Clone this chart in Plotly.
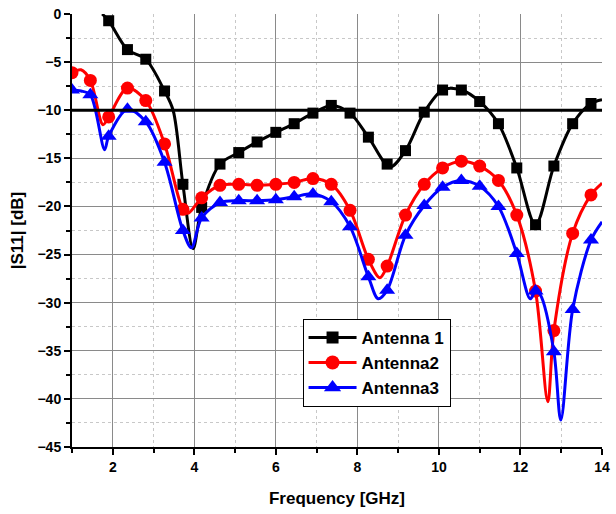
import plotly.graph_objects as go

# ---------------- data ----------------
marker_freq = [1.00, 1.45, 1.90, 2.36, 2.81, 3.27, 3.72, 4.18, 4.63, 5.09, 5.54, 6.00, 6.45,
               6.91, 7.36, 7.82, 8.27, 8.73, 9.18, 9.64, 10.09, 10.55, 11.00, 11.46, 11.91,
               12.37, 12.82, 13.28, 13.73]

ant1_marker_freq = marker_freq[2:]
ant1_marker_s11 = [-0.7, -3.7, -4.7, -8.0, -17.7, -20.1, -15.6, -14.4, -13.3, -12.3, -11.4,
                   -10.3, -9.5, -10.3, -12.8, -15.6, -14.2, -10.2, -7.9, -7.9, -9.1, -11.4,
                   -16.0, -21.9, -15.8, -11.4, -9.3]
ant2_marker_s11 = [-6.1, -6.9, -10.7, -7.7, -9.0, -13.5, -20.3, -19.1, -17.8, -17.7, -17.8,
                   -17.7, -17.5, -17.1, -17.7, -20.4, -25.5, -26.2, -20.9, -17.7, -16.0, -15.3,
                   -15.8, -17.3, -20.9, -28.8, -32.9, -22.8, -18.8]
ant3_marker_s11 = [-7.9, -8.4, -12.7, -9.9, -11.2, -15.4, -22.5, -21.2, -19.6, -19.4, -19.4,
                   -19.3, -19.0, -18.7, -19.5, -22.1, -27.3, -28.7, -23.0, -19.9, -18.0, -17.3,
                   -17.9, -20.0, -24.9, -28.8, -35.1, -30.7, -23.5]

# measured curves (denser readings incl. resonance minima)
ant1_freq = [1.74, 1.90, 2.36, 2.81, 3.27, 3.48, 3.72, 3.97, 4.18, 4.63, 5.09, 5.54, 6.00,
             6.45, 6.91, 7.36, 7.82, 8.27, 8.80, 9.18, 9.64, 10.09, 10.55, 11.00, 11.46,
             11.91, 12.37, 12.82, 13.28, 13.73, 14.00]
ant1_s11 = [0.0, -0.7, -3.7, -4.7, -8.0, -10.0, -17.7, -24.4, -20.1, -15.6, -14.4, -13.3,
            -12.3, -11.4, -10.3, -9.5, -10.3, -12.8, -15.9, -14.2, -10.2, -7.9, -7.9, -9.1,
            -11.4, -16.0, -21.9, -15.8, -11.4, -9.3, -8.9]

ant2_freq = [1.00, 1.22, 1.45, 1.76, 1.90, 2.36, 2.81, 3.27, 3.72, 3.85, 4.18, 4.63, 5.09,
             5.54, 6.00, 6.45, 6.91, 7.36, 7.82, 8.27, 8.55, 8.73, 9.18, 9.64, 10.09, 10.55,
             11.00, 11.46, 11.91, 12.37, 12.67, 12.82, 13.28, 13.73, 14.00]
ant2_s11 = [-6.1, -5.8, -6.9, -11.5, -10.7, -7.7, -9.0, -13.5, -20.3, -20.7, -19.1, -17.8,
            -17.7, -17.8, -17.7, -17.5, -17.1, -17.7, -20.4, -25.5, -27.4, -26.2, -20.9,
            -17.7, -16.0, -15.3, -15.8, -17.3, -20.9, -28.8, -40.3, -32.9, -22.8, -18.8, -17.6]

ant3_freq = [1.00, 1.22, 1.45, 1.80, 1.90, 2.36, 2.81, 3.27, 3.72, 3.93, 4.18, 4.63, 5.09,
             5.54, 6.00, 6.45, 6.91, 7.36, 7.82, 8.27, 8.51, 8.73, 9.18, 9.64, 10.09, 10.55,
             11.00, 11.46, 11.91, 12.24, 12.37, 12.49, 12.82, 12.99, 13.28, 13.73, 14.00]
ant3_s11 = [-7.9, -8.0, -8.4, -14.1, -12.7, -9.9, -11.2, -15.4, -22.5, -24.3, -21.2, -19.6,
            -19.4, -19.4, -19.3, -19.0, -18.7, -19.5, -22.1, -27.3, -29.6, -28.7, -23.0,
            -19.9, -18.0, -17.3, -17.9, -20.0, -24.9, -29.6, -28.8, -29.2, -35.1, -42.2,
            -30.7, -23.5, -21.6]

names = ["Antenna 1", "Antenna2", "Antenna3"]
colors = ["#000000", "#ff0000", "#0000ff"]
symbols = ["square", "circle", "triangle-up"]
msizes = [11, 13, 14]
threshold_db = -10

FONT = "Arial, Liberation Sans, sans-serif"

fig = go.Figure()

series = [
    (ant1_freq, ant1_s11, ant1_marker_freq, ant1_marker_s11),
    (ant2_freq, ant2_s11, marker_freq, ant2_marker_s11),
    (ant3_freq, ant3_s11, marker_freq, ant3_marker_s11),
]

for i, (lf, ls, mf, ms) in enumerate(series):
    fig.add_trace(go.Scatter(
        x=lf, y=ls, mode="lines", showlegend=False, hoverinfo="skip", cliponaxis=True,
        line=dict(color=colors[i], width=3, shape="spline", smoothing=0.9),
    ))
    fig.add_trace(go.Scatter(
        x=mf, y=ms, mode="markers", showlegend=False,
        marker=dict(color=colors[i], symbol=symbols[i], size=msizes[i]),
    ))

# legend entries
for i in range(3):
    fig.add_trace(go.Scatter(
        x=[None], y=[None], mode="lines+markers", name=names[i],
        line=dict(color=colors[i], width=3),
        marker=dict(color=colors[i], symbol=symbols[i], size=msizes[i] + 1),
    ))

# -10 dB reference line
fig.add_shape(type="line", xref="x", yref="y", x0=1, x1=14, y0=threshold_db, y1=threshold_db,
              line=dict(color="black", width=3), layer="above")

axis_common = dict(
    showline=True, linecolor="black", linewidth=2, mirror=False, automargin=False,
    ticks="outside", ticklen=6, tickwidth=2, tickcolor="black",
    showgrid=True, gridcolor="#8a8a8a", gridwidth=1, zeroline=False,
    tickfont=dict(family=FONT, size=14, color="black", weight="bold"),
)

fig.update_xaxes(
    range=[1, 14], tick0=0, dtick=2, **axis_common,
    minor=dict(dtick=1, tick0=0, showgrid=True, gridcolor="#c8c8c8", griddash="dot",
               gridwidth=1, ticks="outside", ticklen=4, tickwidth=2, tickcolor="black"),
    title=dict(text="Frequency [GHz]", standoff=18,
               font=dict(family=FONT, size=17, color="black", weight="bold")),
)
fig.update_yaxes(
    range=[-45, 0], tick0=0, dtick=5, **axis_common,
    minor=dict(dtick=2.5, tick0=0, showgrid=True, gridcolor="#c8c8c8", griddash="dot",
               gridwidth=1, ticks="outside", ticklen=4, tickwidth=2, tickcolor="black"),
    title=dict(text="|S11| [dB]", standoff=10,
               font=dict(family=FONT, size=17, color="black", weight="bold")),
)

fig.update_layout(
    width=616, height=514,
    margin=dict(l=72, r=14, t=14, b=67),
    paper_bgcolor="white", plot_bgcolor="white",
    font=dict(family=FONT, color="black"),
    legend=dict(
        x=0.435, y=0.296, xanchor="left", yanchor="top",
        bgcolor="white", bordercolor="black", borderwidth=1,
        font=dict(family=FONT, size=17, color="black", weight="bold"),
        tracegroupgap=0, itemwidth=48,
    ),
)

fig.write_html("out.html")
